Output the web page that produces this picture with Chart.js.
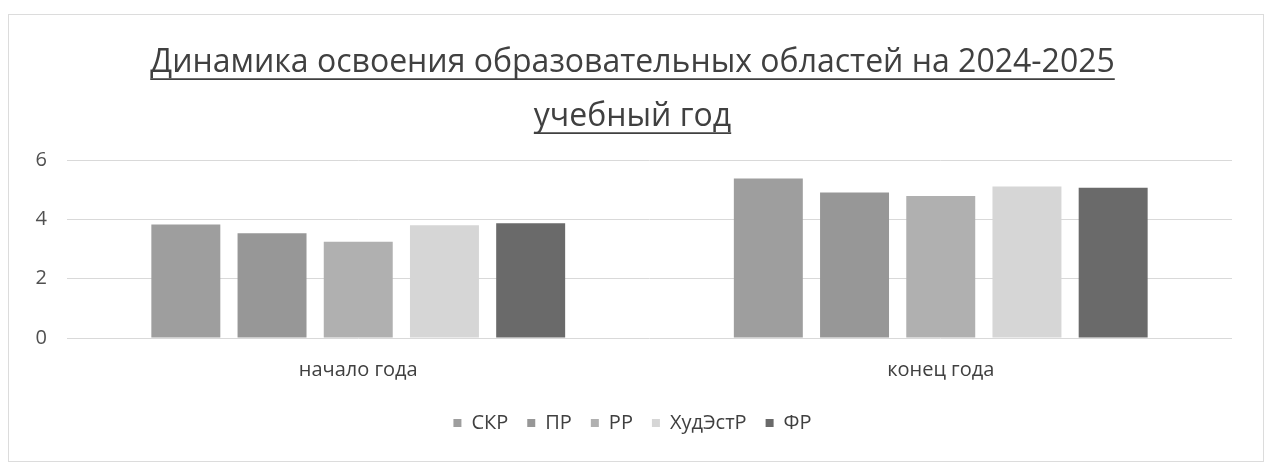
<!DOCTYPE html>
<html lang="ru">
<head>
<meta charset="utf-8">
<title>Динамика освоения образовательных областей</title>
<script src="https://cdn.jsdelivr.net/npm/chart.js@4.4.1/dist/chart.umd.min.js"></script>
<style>
    html, body { margin: 0; padding: 0; background: #ffffff; }
    #frame {
        position: absolute; left: 8px; top: 14px;
        width: 1254px; height: 446px;
        border: 1px solid #dcdcdc;
    }
    #box { position: absolute; left: 0; top: 0; width: 1272px; height: 465px; }
</style>
</head>
<body>
<div id="frame"></div>
<div id="box"><canvas id="chart"></canvas></div>
<script>
// Data
const categories = ['начало года', 'конец года'];
const seriesNames = ['СКР', 'ПР', 'РР', 'ХудЭстР', 'ФР'];
const skrValues = [3.83, 5.38];
const prValues = [3.53, 4.91];
const rrValues = [3.25, 4.79];
const hudValues = [3.80, 5.11];
const frValues = [3.87, 5.07];
const yMax = 6;
const yStep = 2;

const titleLines = ['Динамика освоения образовательных областей на 2024-2025', 'учебный год'];

const seriesColors = ['#9e9e9e', '#979797', '#b0b0b0', '#d6d6d6', '#6a6a6a'];
const allValues = [skrValues, prValues, rrValues, hudValues, frValues];

const fontFamily = "'Open Sans', 'Noto Sans', sans-serif";

// Chart.js title has no underline option, so draw it after the title
const underlineTitle = {
    id: 'underlineTitle',
    afterDraw(chart) {
        const tb = chart.titleBlock;
        if (!tb) return;
        const opts = chart.options.plugins.title;
        const font = Chart.helpers.toFont(opts.font);
        const ctx = chart.ctx;
        ctx.save();
        ctx.font = font.string;
        ctx.strokeStyle = '#404040';
        ctx.lineWidth = 1.8;
        const cx = (tb.left + tb.right) / 2;
        const pad = Chart.helpers.toPadding(opts.padding);
        titleLines.forEach((line, i) => {
            const w = ctx.measureText(line).width;
            const y = tb.top + pad.top + font.lineHeight / 2 + i * font.lineHeight + font.size * 0.5;
            ctx.beginPath();
            ctx.moveTo(cx - w / 2, y);
            ctx.lineTo(cx + w / 2, y);
            ctx.stroke();
        });
        ctx.restore();
    }
};

new Chart(document.getElementById('chart'), {
    type: 'bar',
    data: {
        labels: categories,
        datasets: seriesNames.map((name, i) => ({
            label: name,
            data: allValues[i],
            backgroundColor: seriesColors[i],
            borderWidth: 0,
            barPercentage: 0.8,
            categoryPercentage: 0.74
        }))
    },
    options: {
        responsive: true,
        maintainAspectRatio: false,
        animation: false,
        layout: { padding: { left: 33, right: 40, top: 36, bottom: 22 } },
        scales: {
            x: {
                grid: { display: false },
                border: { display: false },
                ticks: {
                    color: '#404040',
                    padding: 12,
                    font: { family: fontFamily, size: 20 }
                }
            },
            y: {
                min: 0,
                max: yMax,
                afterFit(scale) { scale.width = 34; },
                grid: { color: '#d9d9d9', drawTicks: false },
                border: { display: false },
                ticks: {
                    stepSize: yStep,
                    color: '#505050',
                    padding: 20,
                    font: { family: fontFamily, size: 20 }
                }
            }
        },
        plugins: {
            title: {
                display: true,
                text: titleLines,
                color: '#404040',
                padding: { top: 0, bottom: 16 },
                font: { family: fontFamily, size: 32, weight: 'normal', lineHeight: 1.69 }
            },
            legend: {
                position: 'bottom',
                labels: {
                    color: '#404040',
                    boxWidth: 8,
                    boxHeight: 8,
                    padding: 19,
                    font: { family: fontFamily, size: 20 }
                }
            },
            tooltip: { enabled: false }
        }
    },
    plugins: [underlineTitle]
});
</script>
</body>
</html>
